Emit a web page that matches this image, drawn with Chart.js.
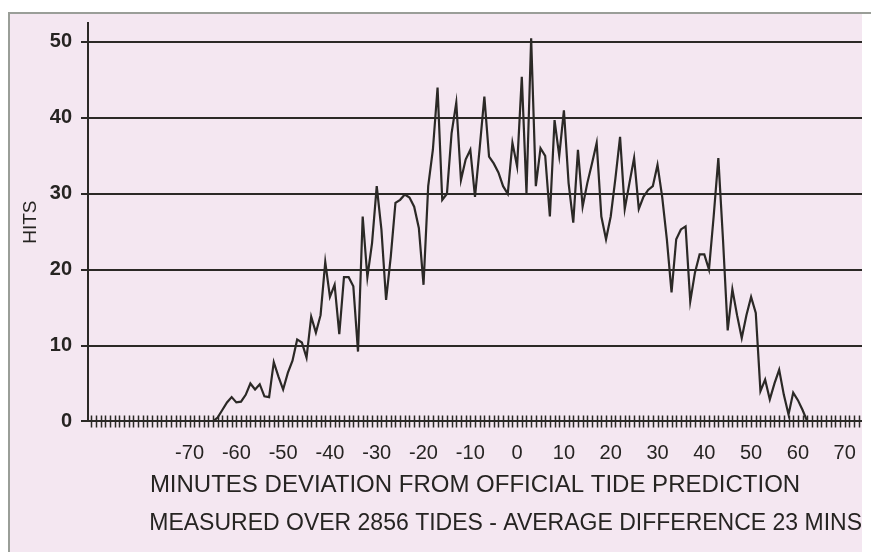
<!DOCTYPE html>
<html>
<head>
<meta charset="utf-8">
<script src="https://cdn.jsdelivr.net/npm/chart.js@4.4.1/dist/chart.umd.min.js"></script>
<style>
  html, body { margin: 0; padding: 0; background: #fff; }
  #frame { position: absolute; left: 8px; top: 12px; width: 852px; height: 538px;
           background: #f4e7f1; border-top: 2px solid #9a9e98; border-left: 2px solid #9a9e98; }
  #topline { position: absolute; left: 862px; top: 12px; width: 9px; height: 2px; background: #9a9e98; }
  canvas { position: absolute; left: 0; top: 0; }
</style>
</head>
<body>
<div id="frame"></div>
<div id="topline"></div>
<canvas id="tides" width="881" height="552"></canvas>
<script>
// --- data: hits per minute of deviation ---
const firstMinute = -66;
const hits = [
  0, 0, 0.5, 1.5, 2.5, 3.2, 2.5, 2.6, 3.5, 5,          // -66 .. -57
  4.2, 4.9, 3.3, 3.2, 7.8, 5.9, 4.2, 6.4, 8, 10.8,      // -56 .. -47
  10.4, 8.4, 13.8, 11.7, 14, 21, 16.4, 18, 11.5, 19,    // -46 .. -37
  19, 17.8, 9.2, 27, 19, 23.5, 31, 25.3, 16, 21.7,      // -36 .. -27
  28.8, 29.2, 29.9, 29.5, 28.3, 25.5, 18, 31, 35.8, 44, // -26 .. -17
  29.2, 30, 38, 42, 31.8, 34.5, 35.8, 29.6, 36, 42.8,   // -16 .. -7
  34.9, 34, 32.8, 31, 30, 36.7, 33.6, 45.4, 30.1, 50.5, // -6 .. 3
  31, 36, 35, 27, 39.7, 35, 41, 31.4, 26.2, 35.8,       // 4 .. 13
  28.3, 31.4, 34, 36.7, 27, 24, 27, 32, 37.5, 28,       // 14 .. 23
  31.4, 34.7, 28, 29.6, 30.5, 31, 33.8, 29.6, 24, 17,   // 24 .. 33
  24, 25.3, 25.7, 15.8, 19.6, 22, 22, 20, 27, 34.7,     // 34 .. 43
  23.9, 12, 17.4, 14, 11, 14, 16.4, 14.3, 4, 5.5,       // 44 .. 53
  2.9, 5, 6.8, 3.5, 0.9, 3.8, 2.8, 1.5, 0, 0            // 54 .. 63
];
const xTickLabels = [-70, -60, -50, -40, -30, -20, -10, 0, 10, 20, 30, 40, 50, 60, 70];
const yTickValues = [0, 10, 20, 30, 40, 50];
const xRange = [-91.7, 73.7];
const yMax = 52.5;

const yTitle = 'HITS';
const xTitle = 'MINUTES DEVIATION FROM OFFICIAL TIDE PREDICTION';
const footNote = 'MEASURED OVER 2856 TIDES - AVERAGE DIFFERENCE 23 MINS';

const FONT = "'Liberation Sans', Arial, sans-serif";
const INK = '#2b2926';
const TEXT = '#262422';

// short minute ticks crossing the zero line
const minuteTicks = {
  id: 'minuteTicks',
  afterDraw(chart) {
    const { ctx, scales: { x, y } } = chart;
    const y0 = y.getPixelForValue(0);
    ctx.save();
    ctx.strokeStyle = INK;
    ctx.lineWidth = 1.5;
    ctx.beginPath();
    for (let m = Math.ceil(x.min); m <= x.max; m++) {
      const px = Math.round(x.getPixelForValue(m)) + 0.5;
      ctx.moveTo(px, y0 - 6);
      ctx.lineTo(px, y0 + 6);
    }
    ctx.stroke();
    ctx.restore();
  }
};

new Chart(document.getElementById('tides'), {
  type: 'line',
  data: {
    datasets: [{
      data: hits.map((h, i) => ({ x: firstMinute + i, y: h })),
      borderColor: INK,
      borderWidth: 2.2,
      pointRadius: 0,
      tension: 0,
      fill: false
    }]
  },
  options: {
    responsive: false,
    animation: false,
    layout: { padding: { left: 0, right: 19, top: 23, bottom: 0 } },
    plugins: {
      legend: { display: false },
      tooltip: { enabled: false },
      title: {
        display: true,
        position: 'bottom',
        align: 'end',
        text: footNote,
        color: TEXT,
        font: { family: FONT, size: 23, weight: 'normal' },
        padding: { top: 0, bottom: 15 }
      }
    },
    scales: {
      x: {
        type: 'linear',
        min: xRange[0],
        max: xRange[1],
        afterBuildTicks: (s) => { s.ticks = xTickLabels.map(v => ({ value: v })); },
        afterFit: (s) => { s.height = 88; },
        grid: { display: false },
        border: { display: false },
        ticks: { autoSkip: false, maxRotation: 0, padding: 12, color: TEXT,
                 font: { family: FONT, size: 20 } },
        title: { display: true, text: xTitle, color: TEXT,
                 font: { family: FONT, size: 24 }, padding: { top: 0, bottom: 10 } }
      },
      y: {
        min: 0,
        max: yMax,
        afterBuildTicks: (s) => { s.ticks = yTickValues.map(v => ({ value: v })); },
        afterFit: (s) => { s.width = 88; },
        grid: { color: INK, lineWidth: 2, drawTicks: true, tickLength: 7 },
        border: { display: true, color: INK, width: 2 },
        ticks: { padding: 9, color: TEXT, font: { family: FONT, size: 20, weight: 'bold' } },
        title: { display: true, text: yTitle, color: TEXT,
                 font: { family: FONT, size: 19 }, padding: { top: 19 } }
      }
    }
  },
  plugins: [minuteTicks]
});
</script>
</body>
</html>
